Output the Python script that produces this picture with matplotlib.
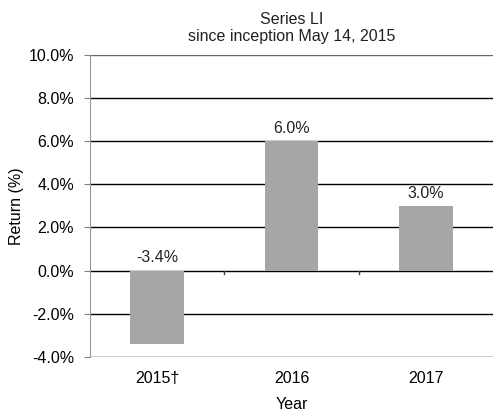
import matplotlib.pyplot as plt
import numpy as np

plt.rcParams['font.family'] = ['Liberation Sans', 'DejaVu Sans']

# Dados
anos = ['2015\u2020', '2016', '2017']
retornos = [-3.4, 6.0, 3.0]
rotulos = ['-3.4%', '6.0%', '3.0%']
yticks = [-4, -2, 0, 2, 4, 6, 8, 10]

fs = 11.5

fig = plt.figure(figsize=(4.98, 4.16), dpi=100)
ax = fig.add_axes([0.181, 0.142, 0.809, 0.726])

x = np.arange(len(anos))
ax.bar(x, retornos, width=0.4, color='#a6a6a6', zorder=3)

for xi, v, r in zip(x, retornos, rotulos):
    y = max(v, 0) + 0.25
    ax.text(xi, y, r, ha='center', va='bottom', fontsize=fs, color='#222222')

ax.set_xlim(-0.5, len(anos) - 0.5)
ax.set_ylim(-4, 10)
ax.set_yticks(yticks)
ax.set_yticklabels([f'{t:.1f}%' for t in yticks], fontsize=fs)
ax.set_xticks(x)
ax.set_xticklabels(anos, fontsize=fs)
ax.tick_params(axis='x', length=0, pad=10)
ax.tick_params(axis='y', length=4, color='#808080', pad=7.5)

for t in yticks:
    ax.axhline(t, color='black' if t < 10 else '#666666', lw=1, zorder=2)

# marcas nas divisões das categorias sobre a linha do zero
for b in np.arange(0.5, len(anos) - 0.5):
    ax.plot([b, b], [0, -0.15], color='#444444', lw=1, zorder=4)

for s in ['top', 'right', 'bottom']:
    ax.spines[s].set_visible(False)
ax.spines['left'].set_color('#999999')

ax.set_ylabel('Return (%)', fontsize=fs, labelpad=3)
ax.set_xlabel('Year', fontsize=fs, labelpad=8)
ax.set_title('Series LI\nsince inception May 14, 2015', fontsize=fs, pad=10,
             color='#222222', linespacing=1.15)

fig.savefig('out.png', dpi=100)
